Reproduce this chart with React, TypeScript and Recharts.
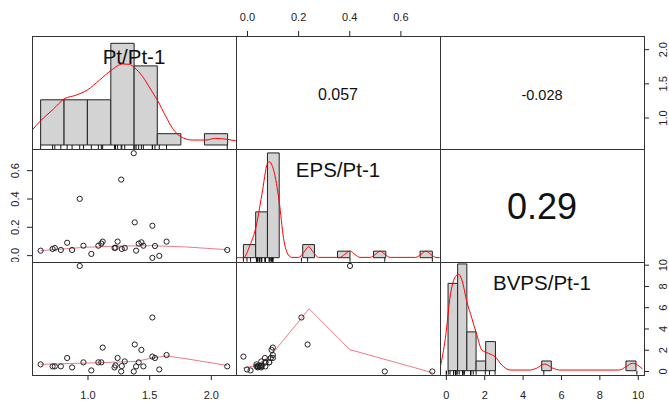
import React from 'react';
import { ComposedChart, Scatter, Line, XAxis, YAxis, ReferenceArea } from 'recharts';

// variables (30 observations)
const varLabels = ['Pt/Pt-1', 'EPS/Pt-1', 'BVPS/Pt-1'];
const ptValues = [0.616, 0.713, 0.731, 0.78, 0.831, 0.871, 0.933, 0.963, 1.027, 1.084, 1.108, 1.119, 1.215, 1.223, 1.24,
  1.269, 1.274, 1.298, 1.371, 1.379, 1.39, 1.411, 1.433, 1.449, 1.522, 1.522, 1.543, 1.578, 1.637, 2.129];
const epsValues = [0.035, 0.047, 0.054, 0.04, 0.091, 0.04, 0.401, 0.07, 0.012, 0.07, 0.085, 0.099, 0.054, 0.056, 0.099,
  0.537, 0.047, 0.054, 0.723, 0.235, 0.035, 0.085, 0.094, 0.07, 0.211, -0.016, 0.068, -0.002, 0.099, 0.04];
const bvpsValues = [0.67, 0.48, 0.48, 0.48, 1.27, 0.38, 9.93, 0.86, 0.1, 0.86, 0.86, 2.25, 0.38, 0.57, 1.27,
  0.0, 0.51, 0.95, 0.0, 2.54, 0.48, 0.86, 2.03, 0.48, 5.08, 1.4, 1.27, 0.19, 1.55, 0.48];

// correlations (upper panels)
const corrPtEps = '0.057';
const corrPtBvps = '-0.028';
const corrEpsBvps = '0.29';

// histograms (non-empty bins)
const ptBinStart = [0.616, 0.806, 0.995, 1.185, 1.374, 1.562, 1.944];
const ptBinEnd = [0.806, 0.995, 1.185, 1.374, 1.562, 1.753, 2.132];
const ptCounts = [4, 4, 4, 9, 7, 1, 1];
const epsBinStart = [-0.016, 0.032, 0.078, 0.216, 0.352, 0.493, 0.675];
const epsBinEnd = [0.032, 0.078, 0.124, 0.262, 0.401, 0.541, 0.723];
const epsCounts = [2, 7, 16, 2, 1, 1, 1];
const bvpsBinStart = [0.09, 0.59, 1.07, 1.55, 2.05, 4.97, 9.36];
const bvpsBinEnd = [0.59, 1.07, 1.55, 2.05, 2.56, 5.47, 9.88];
const bvpsCounts = [9, 11, 4, 1, 3, 1, 1];

// density curves (in count units)
const ptDensX = [0.548, 0.616, 0.718, 0.806, 0.906, 0.995, 1.094, 1.185, 1.282, 1.336, 1.374, 1.444, 1.511, 1.562,
  1.632, 1.685, 1.753, 1.847, 1.955, 2.035, 2.129, 2.197];
const ptDensY = [1.33, 2.15, 3.16, 4.07, 4.42, 4.87, 5.75, 6.58, 7.17, 7.14, 6.87, 6.04, 4.87, 3.98,
  2.5, 1.48, 0.73, 0.44, 0.44, 0.59, 0.5, 0.38];
const epsDensX = [-0.045, -0.016, 0.01, 0.032, 0.056, 0.078, 0.085, 0.102, 0.124, 0.141, 0.16, 0.173, 0.2, 0.22, 0.239,
  0.258, 0.278, 0.362, 0.38, 0.401, 0.42, 0.44, 0.48, 0.5, 0.519, 0.538, 0.558, 0.658, 0.678, 0.698, 0.717, 0.737, 0.752];
const epsDensY = [0, 0, 1.94, 4.49, 9.57, 14.4, 14.66, 13.4, 8.55, 2.96, 0.41, 0.05, 0.05, 0.8, 1.68,
  0.8, 0.05, 0.05, 0.5, 1.02, 0.5, 0.05, 0.05, 0.5, 1.0, 0.5, 0.05, 0.05, 0.5, 1.0, 0.5, 0.05, 0];
const bvpsDensX = [-0.31, -0.05, 0.21, 0.47, 0.64, 0.81, 1.07, 1.33, 1.59, 1.85, 2.19, 2.54, 2.89, 3.32, 4.35, 4.7,
  5.13, 5.56, 5.91, 9.02, 9.36, 9.7, 9.96, 10.22];
const bvpsDensY = [0.41, 3.34, 7.8, 9.69, 9.94, 9.35, 7.11, 5.4, 3.68, 2.13, 1.79, 1.44, 0.59, 0.07, 0.07, 0.25,
  0.69, 0.25, 0.07, 0.07, 0.41, 0.76, 0.59, 0.18];

// smoothed fits (lower panels)
const loessPtEpsX = [0.616, 0.96, 1.26, 1.53, 1.8, 2.129];
const loessPtEpsY = [0.035, 0.058, 0.068, 0.07, 0.061, 0.042];
const loessPtBvpsX = [0.616, 1.095, 1.39, 1.522, 1.637, 1.79, 2.129];
const loessPtBvpsY = [0.67, 0.83, 0.95, 1.27, 1.46, 1.21, 0.57];
const loessEpsBvpsX = [-0.017, 0.035, 0.094, 0.241, 0.4, 0.725];
const loessEpsBvpsY = [0.32, 0.57, 1.59, 5.9, 2.06, -0.12];

// axis ticks
const ptTicks = [1.0, 1.5, 2.0];
const epsTicks = [0.0, 0.2, 0.4, 0.6];
const bvpsTicks = [0, 2, 4, 6, 8, 10];

// layout
const W = 204;
const H = 113;
const colLeft = [32, 236, 440];
const rowTop = [36, 149, 262];
const ptDomain: [number, number] = [0.546, 2.2];
const epsDomain: [number, number] = [-0.045, 0.753];
const bvpsDomain: [number, number] = [-0.33, 10.3];
const ptCountDomain: [number, number] = [-0.354, 9.646];
const epsCountDomain: [number, number] = [-0.656, 16.6];
const bvpsCountDomain: [number, number] = [-0.443, 11.2];

const FONT = '"Liberation Sans", Arial, sans-serif';
const INK = '#222';
const LOESS = '#ee7a88';
const AX = { top: 36, bottom: 26, left: 32, right: 25 };

const pairs = (xs: number[], ys: number[]) => xs.map((x, i) => ({ x, y: ys[i] }));
const rug = (xs: number[]) => xs.map((x) => ({ x, y: 0 }));
const fmt1 = (v: number) => v.toFixed(1);
const fmt0 = (v: number) => String(v);

const Circle = (p: any) => (
  <circle cx={p.cx} cy={p.cy} r={2.6} fill="none" stroke={INK} strokeWidth={1} />
);
const RugTick = (p: any) => (
  <line x1={p.cx} x2={p.cx} y1={p.cy} y2={p.cy + 4} stroke="#111" strokeWidth={1} />
);

// tick labels; x/y given by recharts are local to the chart's svg
const makeTick = (side: string, fmt: (v: number) => string) => (p: any) => {
  const label = fmt(p.payload.value);
  if (side === 'bottom') {
    return <text x={p.x} y={p.y + 17} textAnchor="middle" fontSize={11} fontFamily={FONT} fill={INK}>{label}</text>;
  }
  if (side === 'top') {
    return <text x={p.x} y={p.y - 8} textAnchor="middle" fontSize={11} fontFamily={FONT} fill={INK}>{label}</text>;
  }
  const bx = side === 'left' ? p.x - 6 : p.x + 16;
  return (
    <text x={bx} y={p.y} textAnchor="middle" fontSize={11} fontFamily={FONT} fill={INK}
      transform={`rotate(-90, ${bx}, ${p.y})`}>{label}</text>
  );
};

type PanelProps = {
  r: number;
  c: number;
  xDomain: [number, number];
  yDomain: [number, number];
  xSide?: 'top' | 'bottom';
  ySide?: 'left' | 'right';
  xTicks?: number[];
  yTicks?: number[];
  xFmt?: (v: number) => string;
  yFmt?: (v: number) => string;
  pad?: number;
  children?: React.ReactNode;
};

const Panel = ({ r, c, xDomain, yDomain, xSide, ySide, xTicks, yTicks, xFmt, yFmt, pad = 0, children }: PanelProps) => {
  const ex = {
    top: xSide === 'top' ? AX.top : pad,
    bottom: xSide === 'bottom' ? AX.bottom : pad,
    left: ySide === 'left' ? AX.left : 0,
    right: ySide === 'right' ? AX.right : 0,
  };
  return (
    <div style={{ position: 'absolute', left: colLeft[c] - ex.left, top: rowTop[r] - ex.top }}>
      <ComposedChart width={W + ex.left + ex.right} height={H + ex.top + ex.bottom}
        margin={{ top: xSide === 'top' ? 0 : pad, right: 0, bottom: xSide === 'bottom' ? 0 : pad, left: 0 }}>
        <XAxis type="number" dataKey="x" domain={xDomain} allowDataOverflow hide={!xSide}
          orientation={xSide || 'bottom'} height={xSide ? AX[xSide] : 0}
          ticks={xTicks} interval={0} axisLine={false} tickSize={5}
          tickLine={{ stroke: INK }} tick={xSide && xFmt ? makeTick(xSide, xFmt) : false} />
        <YAxis type="number" dataKey="y" domain={yDomain} allowDataOverflow hide={!ySide}
          orientation={ySide || 'left'} width={ySide ? AX[ySide] : 0}
          ticks={yTicks} interval={0} axisLine={false} tickSize={5}
          tickLine={{ stroke: INK }} tick={ySide && yFmt ? makeTick(ySide, yFmt) : false} />
        {children}
      </ComposedChart>
    </div>
  );
};

const histBars = (starts: number[], ends: number[], counts: number[]) =>
  starts.map((s, i) => (
    <ReferenceArea key={'b' + i} x1={s} x2={ends[i]} y1={0} y2={counts[i]}
      fill="#d3d3d3" fillOpacity={1} stroke={INK} strokeWidth={1} ifOverflow="visible" />
  ));

const Label = ({ x, y, size, text }: { x: number; y: number; size: number; text: string }) => (
  <div style={{
    position: 'absolute', left: x, top: y, transform: 'translate(-50%, -50%)', fontFamily: FONT,
    fontSize: size, color: '#111', whiteSpace: 'nowrap', lineHeight: 1,
  }}>{text}</div>
);

export default function App() {
  return (
    <div style={{ position: 'absolute', left: 0, top: 0, width: 669, height: 401, background: '#fff', overflow: 'hidden' }}>
      {/* row 1 */}
      <Panel r={0} c={0} xDomain={ptDomain} yDomain={ptCountDomain}>
        {histBars(ptBinStart, ptBinEnd, ptCounts)}
        <Scatter data={rug(ptValues)} shape={RugTick} isAnimationActive={false} />
        <Line data={pairs(ptDensX, ptDensY)} dataKey="y" type="monotone" stroke="#ff0000" strokeWidth={1}
          dot={false} isAnimationActive={false} />
      </Panel>
      <Panel r={0} c={1} xDomain={epsDomain} yDomain={ptDomain} xSide="top" xTicks={epsTicks} xFmt={fmt1}>
        <Scatter data={[]} shape={Circle} isAnimationActive={false} />
      </Panel>
      <Panel r={0} c={2} xDomain={bvpsDomain} yDomain={ptDomain} ySide="right" yTicks={ptTicks} yFmt={fmt1}>
        <Scatter data={[]} shape={Circle} isAnimationActive={false} />
      </Panel>

      {/* row 2 */}
      <Panel r={1} c={0} xDomain={ptDomain} yDomain={epsDomain} ySide="left" yTicks={epsTicks} yFmt={fmt1}>
        <Scatter data={pairs(ptValues, epsValues)} shape={Circle} isAnimationActive={false} />
        <Line data={pairs(loessPtEpsX, loessPtEpsY)} dataKey="y" type="linear" stroke={LOESS} strokeWidth={1}
          dot={false} isAnimationActive={false} />
      </Panel>
      <Panel r={1} c={1} xDomain={epsDomain} yDomain={epsCountDomain}>
        {histBars(epsBinStart, epsBinEnd, epsCounts)}
        <Scatter data={rug(epsValues)} shape={RugTick} isAnimationActive={false} />
        <Line data={pairs(epsDensX, epsDensY)} dataKey="y" type="monotone" stroke="#ff0000" strokeWidth={1}
          dot={false} isAnimationActive={false} />
      </Panel>

      {/* row 3 */}
      <Panel r={2} c={0} xDomain={ptDomain} yDomain={bvpsDomain} xSide="bottom" xTicks={ptTicks} xFmt={fmt1}>
        <Scatter data={pairs(ptValues, bvpsValues)} shape={Circle} isAnimationActive={false} />
        <Line data={pairs(loessPtBvpsX, loessPtBvpsY)} dataKey="y" type="linear" stroke={LOESS} strokeWidth={1}
          dot={false} isAnimationActive={false} />
      </Panel>
      <Panel r={2} c={1} xDomain={epsDomain} yDomain={bvpsDomain}>
        <Scatter data={pairs(epsValues, bvpsValues)} shape={Circle} isAnimationActive={false} />
        <Line data={pairs(loessEpsBvpsX, loessEpsBvpsY)} dataKey="y" type="linear" stroke={LOESS} strokeWidth={1}
          dot={false} isAnimationActive={false} />
      </Panel>
      {/* right axis of row 3 (BVPS scale), padded so the top label is not clipped */}
      <Panel r={2} c={2} xDomain={bvpsDomain} yDomain={bvpsDomain} ySide="right" yTicks={bvpsTicks} yFmt={fmt0} pad={10}>
        <Scatter data={[]} shape={Circle} isAnimationActive={false} />
      </Panel>
      <Panel r={2} c={2} xDomain={bvpsDomain} yDomain={bvpsCountDomain} xSide="bottom" xTicks={bvpsTicks} xFmt={fmt0}>
        {histBars(bvpsBinStart, bvpsBinEnd, bvpsCounts)}
        <Scatter data={rug(bvpsValues)} shape={RugTick} isAnimationActive={false} />
        <Line data={pairs(bvpsDensX, bvpsDensY)} dataKey="y" type="monotone" stroke="#ff0000" strokeWidth={1}
          dot={false} isAnimationActive={false} />
      </Panel>

      {/* panel borders */}
      <svg width={669} height={401} style={{ position: 'absolute', left: 0, top: 0, pointerEvents: 'none' }}>
        {rowTop.map((t) => colLeft.map((l) => (
          <rect key={`${t}-${l}`} x={l + 0.5} y={t + 0.5} width={W} height={H} fill="none" stroke="#333" strokeWidth={1} />
        )))}
      </svg>

      {/* diagonal titles */}
      <Label x={colLeft[0] + W / 2} y={rowTop[0] + 21} size={20.5} text={varLabels[0]} />
      <Label x={colLeft[1] + W / 2} y={rowTop[1] + 21} size={20.5} text={varLabels[1]} />
      <Label x={colLeft[2] + W / 2} y={rowTop[2] + 21} size={20.5} text={varLabels[2]} />

      {/* correlations */}
      <Label x={colLeft[1] + W / 2} y={rowTop[0] + 59} size={16} text={corrPtEps} />
      <Label x={colLeft[2] + W / 2} y={rowTop[0] + 59} size={14.5} text={corrPtBvps} />
      <Label x={colLeft[2] + W / 2} y={rowTop[1] + 58} size={36} text={corrEpsBvps} />
    </div>
  );
}
